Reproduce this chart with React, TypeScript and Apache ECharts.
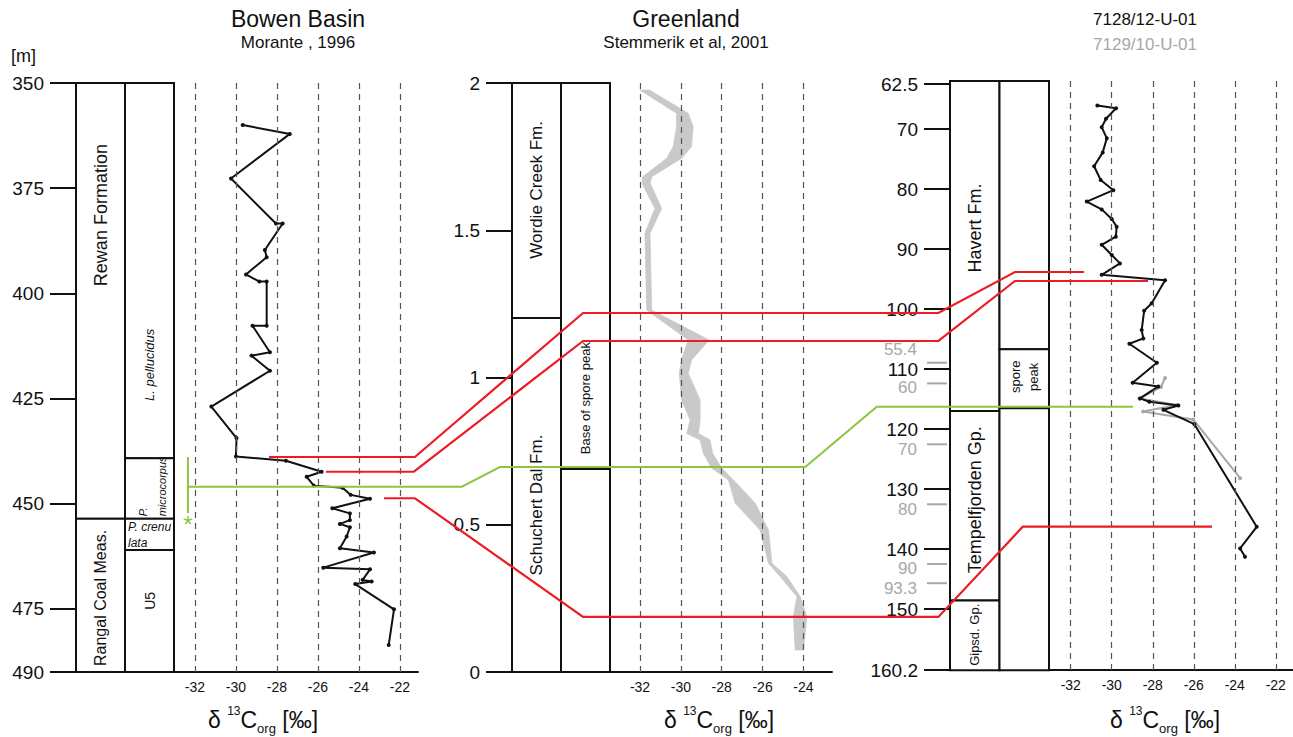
import React, { useEffect, useRef } from 'react';
import * as echarts from 'echarts';

const FONT = '"Liberation Sans", Arial, Helvetica, sans-serif';

// ---------- Bowen Basin ----------
const bowenDepthTicks = [350, 375, 400, 425, 450, 475, 490];
const bowenIsoTicks = [-32, -30, -28, -26, -24, -22];
const bowenD13C = [-29.67, -27.37, -30.24, -28.05, -27.72, -28.59, -28.5, -29.51, -28.86, -28.5, -28.5, -29.19, -28.34, -29.24, -28.34, -31.2, -29.97, -30.0, -27.56, -25.82, -26.55, -26.2, -24.8, -24.4, -23.46, -25.3, -24.44, -24.44, -24.93, -24.44, -24.6, -24.93, -23.27, -25.74, -23.46, -23.82, -23.38, -24.18, -22.29, -22.55];
const bowenDepth = [360.0, 362.1, 372.7, 383.4, 383.4, 389.7, 391.4, 395.5, 397.2, 397.2, 407.7, 407.7, 414.0, 414.8, 418.4, 426.9, 434.4, 438.8, 439.8, 442.4, 443.6, 445.7, 446.2, 447.9, 448.8, 451.1, 452.3, 453.9, 454.8, 455.6, 457.8, 460.6, 461.6, 465.2, 465.6, 468.1, 468.5, 469.1, 475.1, 483.6];
const bowenUnitCol = [0, 0, 1, 1, 1, 1];
const bowenUnitTop = [350, 453.6, 350, 439.2, 453.6, 461];
const bowenUnitBase = [453.6, 490, 439.2, 453.6, 461, 490];
const bowenLabels = ['Rewan Formation', 'Rangal Coal Meas.', 'L. pellucidus', 'P.\nmicrocorpus', 'P. crenu\nlata', 'U5'];
const bowenLabelCol = [0.5, 0.5, 1.5, 1.5, 1.0, 1.5];
const bowenLabelDepth = [381.4, 472.4, 417.0, 453.0, 457.4, 473.1];

// ---------- Greenland ----------
const grlHeightTicks = [0, 0.5, 1, 1.5, 2];
const grlIsoTicks = [-32, -30, -28, -26, -24];
const grlDepth = [1.976, 1.897, 1.852, 1.784, 1.744, 1.682, 1.659, 1.574, 1.49, 1.229, 1.127, 1.059, 1.014, 0.924, 0.856, 0.81, 0.788, 0.743, 0.692, 0.652, 0.573, 0.482, 0.369, 0.324, 0.256, 0.188, 0.075];
const grlLeft = [-32.0, -30.21, -30.21, -30.37, -30.7, -31.87, -31.9, -31.27, -31.76, -31.67, -29.64, -29.97, -30.08, -29.96, -29.55, -29.71, -29.06, -28.9, -28.49, -27.67, -27.34, -26.12, -25.71, -25.14, -24.32, -24.49, -24.4];
const grlRight = [-31.54, -29.64, -29.4, -29.48, -29.97, -31.43, -31.5, -30.94, -31.51, -31.43, -28.62, -29.48, -29.64, -29.06, -29.06, -29.14, -28.57, -28.45, -28.0, -27.42, -26.36, -25.71, -25.54, -24.81, -24.16, -23.83, -24.0];
const grlUnitCol = [0, 0, 1, 1];
const grlUnitTop = [2, 1.202, 2, 0.689];
const grlUnitBase = [1.202, 0, 0.689, 0];
const grlLabels = ['Wordie Creek Fm.', 'Schuchert Dal Fm.', 'Base of spore peak'];
const grlLabelCol = [0.5, 0.5, 1.5];
const grlLabelDepth = [1.637, 0.567, 0.93];

// ---------- Svalbard cores ----------
const svDepthTicks = [62.5, 70, 80, 90, 100, 110, 120, 130, 140, 150, 160.2];
const svIsoTicks = [-32, -30, -28, -26, -24, -22];
const svD13C = [-30.7, -29.79, -30.28, -30.49, -30.24, -30.44, -30.86, -30.54, -29.92, -31.22, -30.49, -30.0, -29.76, -29.8, -30.49, -30.0, -29.6, -30.49, -27.4, -28.05, -28.42, -28.54, -28.46, -29.14, -27.8, -28.98, -27.73, -28.62, -28.17, -26.75, -27.48, -25.97, -22.93, -23.74, -23.5];
const svDepth = [66.1, 66.55, 68.3, 69.7, 71.55, 73.9, 76.2, 78.5, 80.2, 82.1, 83.4, 85.0, 86.3, 87.95, 89.3, 91.0, 92.4, 94.3, 95.2, 99.05, 100.3, 103.5, 104.9, 105.8, 108.95, 112.3, 112.9, 114.9, 115.45, 116.1, 116.8, 119.2, 136.3, 139.9, 141.3];
const sv2D13C = [-27.4, -27.6, -28.65, -26.83, -28.47, -26.03, -23.74];
const sv2Depth = [111.5, 113.0, 114.9, 116.0, 117.1, 118.4, 128.2];
const sv2TickLabels = ['55.4', '60', '70', '80', '90', '93.3'];
const sv2TickDepth = [108.95, 112.4, 122.55, 132.55, 142.5, 145.7];
const svUnitCol = [0, 0, 0, 1, 1, 1];
const svUnitTop = [62, 117.0, 148.6, 62, 106.7, 116.55];
const svUnitBase = [117.0, 148.6, 160.2, 106.7, 116.55, 160.2];
const svLabels = ['Havert Fm.', 'Tempelfjorden Gp.', 'Gipsd. Gp.', 'spore\npeak'];
const svLabelCol = [0.5, 0.5, 0.5, 1.5];
const svLabelDepth = [86.5, 131.8, 154.3, 111.3];

// ---------- correlation lines: [panel, d13C, depth] ----------
const corrRed1 = [[0, -28.39, 438.9], [0, -21.27, 438.9], [1, -34.79, 1.219], [1, -17.39, 1.219], [2, -34.72, 93.83], [2, -31.35, 93.83]];
const corrRed2 = [[0, -25.61, 442.4], [0, -21.32, 442.4], [1, -34.79, 1.124], [1, -17.39, 1.124], [2, -34.72, 95.33], [2, -28.23, 95.33]];
const corrRed3 = [[0, -22.78, 448.7], [0, -21.27, 448.7], [1, -34.79, 0.187], [1, -17.39, 0.187], [2, -34.34, 136.28], [2, -25.11, 136.28]];
const corrGreen = [[0, -32.34, 445.96], [0, -18.98, 445.96], [1, -38.86, 0.696], [1, -23.91, 0.696], [2, -41.46, 116.28], [2, -28.96, 116.28]];
const greenBar = [[0, -32.34, 438.9], [0, -32.34, 452.2]];
const greenStar = [0, -32.34, 453.6];

// ---------- styles ----------
const bowenLabelStyle = [
  { size: 18, rot: true },
  { size: 16, rot: true },
  { size: 13, rot: true, italic: true },
  { size: 11, rot: true, italic: true, align: 'left', lh: 19, dx: 3 },
  { size: 12, italic: true, align: 'left', lh: 16, dx: 3 },
  { size: 14, rot: true },
];
const grlLabelStyle = [
  { size: 17, rot: true },
  { size: 17, rot: true },
  { size: 13, rot: true },
];
const svLabelStyle = [
  { size: 18, rot: true },
  { size: 18, rot: true },
  { size: 13, rot: true },
  { size: 13, rot: true, lh: 18 },
];
const sv2LabelShift: Record<string, number> = { '55.4': -13, '60': 4, '70': 5, '80': 5, '90': 4, '93.3': 5 };
const RED = '#ed1c24';
const GREEN = '#8cc63f';
const GRAY = '#a8a8a8';
const INK = '#111';
const panelGrid = [1, 3, 5];

function unitsSeries(g: number, cols: number[], tops: number[], bases: number[]) {
  return {
    type: 'custom',
    xAxisIndex: g,
    yAxisIndex: g,
    silent: true,
    data: cols.map((c, i) => [c, tops[i], bases[i]]),
    renderItem: (params: any, api: any) => {
      const c = api.value(0);
      const p1 = api.coord([c, api.value(1)]);
      const p2 = api.coord([c + 1, api.value(2)]);
      return {
        type: 'rect',
        shape: { x: p1[0], y: Math.min(p1[1], p2[1]), width: p2[0] - p1[0], height: Math.abs(p2[1] - p1[1]) },
        style: { fill: '#fff', stroke: INK, lineWidth: 2 },
      };
    },
  };
}

function labelSeries(g: number, texts: string[], cols: number[], depths: number[], styles: any[]) {
  return {
    type: 'custom',
    xAxisIndex: g,
    yAxisIndex: g,
    silent: true,
    z: 4,
    data: cols.map((c, i) => [c, depths[i]]),
    renderItem: (params: any, api: any) => {
      const i = params.dataIndex;
      const st = styles[i];
      const p = api.coord([api.value(0), api.value(1)]);
      return {
        type: 'text',
        x: p[0] + (st.dx || 0),
        y: p[1],
        rotation: st.rot ? Math.PI / 2 : 0,
        style: {
          text: texts[i],
          fontSize: st.size,
          fontStyle: st.italic ? 'italic' : 'normal',
          fontFamily: FONT,
          fill: INK,
          align: st.align || 'center',
          verticalAlign: 'middle',
          lineHeight: st.lh || st.size * 1.2,
        },
      };
    },
  };
}

function dashedLines(ticks: number[]) {
  return {
    silent: true,
    symbol: ['none', 'none'],
    label: { show: false },
    lineStyle: { type: [6, 5], color: '#555', width: 1.2 },
    data: ticks.map((v) => ({ xAxis: v })),
  };
}

function colXAxis(g: number) {
  return { type: 'value', gridIndex: g, min: 0, max: 2, show: false };
}
function isoXAxis(g: number, min: number, max: number, ticks: number[]) {
  return {
    type: 'value', gridIndex: g, min, max,
    axisLine: { show: true, onZero: false, lineStyle: { color: INK, width: 2 } },
    axisTick: { show: false },
    splitLine: { show: false },
    axisLabel: { customValues: ticks, fontSize: 14, color: INK, fontFamily: FONT, margin: 8 },
  };
}
function depthYAxis(g: number, min: number, max: number, inverse: boolean, ticks: number[], show: boolean) {
  if (!show) return { type: 'value', gridIndex: g, min, max, inverse, show: false };
  return {
    type: 'value', gridIndex: g, min, max, inverse,
    axisLine: { show: false },
    axisTick: { show: true, customValues: ticks, length: 26, lineStyle: { color: INK, width: 2 } },
    splitLine: { show: false },
    axisLabel: { customValues: ticks, fontSize: 19, color: INK, fontFamily: FONT, margin: 32 },
  };
}

const gridBase = { containLabel: false, outerBoundsMode: 'none' };

const option: any = {
  animation: false,
  backgroundColor: '#fff',
  grid: [
    { ...gridBase, left: 76, top: 83, width: 98, height: 589 },
    { ...gridBase, left: 174, top: 83, width: 244, height: 589 },
    { ...gridBase, left: 512, top: 83, width: 98, height: 589 },
    { ...gridBase, left: 610, top: 83, width: 222, height: 589 },
    { ...gridBase, left: 950, top: 81, width: 99, height: 589.2 },
    { ...gridBase, left: 1049, top: 81, width: 244, height: 589.2 },
  ],
  xAxis: [
    colXAxis(0),
    isoXAxis(1, -33.02, -21.12, bowenIsoTicks),
    colXAxis(2),
    isoXAxis(3, -33.47, -22.6, grlIsoTicks),
    colXAxis(4),
    isoXAxis(5, -33.06, -21.16, svIsoTicks),
  ],
  yAxis: [
    depthYAxis(0, 350, 490, true, bowenDepthTicks, true),
    depthYAxis(1, 350, 490, true, bowenDepthTicks, false),
    depthYAxis(2, 0, 2, false, grlHeightTicks, true),
    depthYAxis(3, 0, 2, false, grlHeightTicks, false),
    depthYAxis(4, 62, 160.2, true, svDepthTicks, true),
    depthYAxis(5, 62, 160.2, true, svDepthTicks, false),
  ],
  series: [
    unitsSeries(0, bowenUnitCol, bowenUnitTop, bowenUnitBase),
    labelSeries(0, bowenLabels, bowenLabelCol, bowenLabelDepth, bowenLabelStyle),
    {
      type: 'line', xAxisIndex: 1, yAxisIndex: 1, z: 3,
      data: bowenD13C.map((v, i) => [v, bowenDepth[i]]),
      symbol: 'circle', symbolSize: 4,
      lineStyle: { color: INK, width: 2 }, itemStyle: { color: INK },
      markLine: dashedLines(bowenIsoTicks),
    },
    unitsSeries(2, grlUnitCol, grlUnitTop, grlUnitBase),
    labelSeries(2, grlLabels, grlLabelCol, grlLabelDepth, grlLabelStyle),
    {
      type: 'custom', xAxisIndex: 3, yAxisIndex: 3, silent: true, z: 3,
      data: grlDepth.map((d, i) => [grlLeft[i], grlRight[i], d]),
      encode: { x: [0, 1], y: 2 },
      renderItem: (params: any, api: any) => {
        if (params.dataIndex !== 0) return null;
        const pts: number[][] = [];
        for (let i = 0; i < grlDepth.length; i++) pts.push(api.coord([grlLeft[i], grlDepth[i]]));
        for (let i = grlDepth.length - 1; i >= 0; i--) pts.push(api.coord([grlRight[i], grlDepth[i]]));
        return { type: 'polygon', shape: { points: pts }, style: { fill: '#c9c9c9', stroke: '#c9c9c9', lineWidth: 0.8 } };
      },
      markLine: dashedLines(grlIsoTicks),
    },
    unitsSeries(4, svUnitCol, svUnitTop, svUnitBase),
    labelSeries(4, svLabels, svLabelCol, svLabelDepth, svLabelStyle),
    {
      type: 'custom', xAxisIndex: 4, yAxisIndex: 4, silent: true, clip: false, z: 4,
      data: sv2TickDepth.map((d) => [0, d]),
      renderItem: (params: any, api: any) => {
        const i = params.dataIndex;
        const p = api.coord([0, api.value(1)]);
        const shift = sv2LabelShift[sv2TickLabels[i]] || 0;
        return {
          type: 'group',
          children: [
            { type: 'line', shape: { x1: p[0] - 23, y1: p[1], x2: p[0] - 3, y2: p[1] }, style: { stroke: GRAY, lineWidth: 2 } },
            { type: 'text', x: p[0] - 33, y: p[1] + shift, style: { text: sv2TickLabels[i], fontSize: 17, lineHeight: 17, fontFamily: FONT, fill: GRAY, align: 'right', verticalAlign: 'middle' } },
          ],
        };
      },
    },
    {
      type: 'line', xAxisIndex: 5, yAxisIndex: 5, z: 3,
      data: sv2D13C.map((v, i) => [v, sv2Depth[i]]),
      symbol: 'circle', symbolSize: 4,
      lineStyle: { color: GRAY, width: 2 }, itemStyle: { color: GRAY },
    },
    {
      type: 'line', xAxisIndex: 5, yAxisIndex: 5, z: 4,
      data: svD13C.map((v, i) => [v, svDepth[i]]),
      symbol: 'circle', symbolSize: 4,
      lineStyle: { color: INK, width: 2 }, itemStyle: { color: INK },
      markLine: dashedLines(svIsoTicks),
    },
  ],
};

function axisTitle(x: number) {
  return {
    type: 'text', x, y: 720, z: 50,
    style: {
      text: '{a|δ }{sup|13}{a|C}{sub|org}{a| [‰]}',
      align: 'center', verticalAlign: 'middle', fill: INK,
      rich: {
        a: { fontSize: 23, fontFamily: FONT, lineHeight: 30, verticalAlign: 'middle', fill: INK },
        sup: { fontSize: 12, fontFamily: FONT, lineHeight: 14, verticalAlign: 'top', fill: INK },
        sub: { fontSize: 13, fontFamily: FONT, lineHeight: 14, verticalAlign: 'bottom', fill: INK },
      },
    },
  };
}

function titleText(text: string, x: number, y: number, size: number, color = INK, align = 'center') {
  return { type: 'text', x, y, z: 50, style: { text, fontSize: size, fontFamily: FONT, fill: color, align, verticalAlign: 'middle' } };
}

export default function App() {
  const ref = useRef<HTMLDivElement>(null);
  useEffect(() => {
    document.body.style.margin = '0';
    const chart = echarts.init(ref.current as HTMLDivElement, null, { renderer: 'svg' });
    chart.setOption(option);
    const px = (pt: number[]) => chart.convertToPixel({ gridIndex: panelGrid[pt[0]] } as any, [pt[1], pt[2]]) as number[];
    const poly = (pts: number[][], color: string, w: number) => ({
      type: 'polyline', z: 100, silent: true,
      shape: { points: pts.map(px) },
      style: { stroke: color, lineWidth: w, fill: 'none', lineJoin: 'miter' },
    });
    const star = px(greenStar);
    const elements: any[] = [
      titleText('Bowen Basin', 298, 19, 23),
      titleText('Morante , 1996', 298, 42, 17),
      titleText('Greenland', 686, 19, 23),
      titleText('Stemmerik et al, 2001', 686, 42, 17),
      titleText('7128/12-U-01', 1145, 19, 17),
      titleText('7129/10-U-01', 1145, 44, 17, GRAY),
      titleText('[m]', 11, 56, 18, INK, 'left'),
      axisTitle(263),
      axisTitle(719),
      axisTitle(1165),
      poly(corrRed1, RED, 2.2),
      poly(corrRed2, RED, 2.2),
      poly(corrRed3, RED, 2.2),
      poly(corrGreen, GREEN, 2),
      poly(greenBar, GREEN, 2),
      { type: 'text', x: star[0], y: star[1] + 6, z: 100, style: { text: '*', fontSize: 24, fontFamily: FONT, fill: GREEN, align: 'center', verticalAlign: 'middle' } },
    ];
    chart.setOption({ graphic: { elements } });
    return () => chart.dispose();
  }, []);
  return <div ref={ref} style={{ width: 1293, height: 737 }} />;
}
